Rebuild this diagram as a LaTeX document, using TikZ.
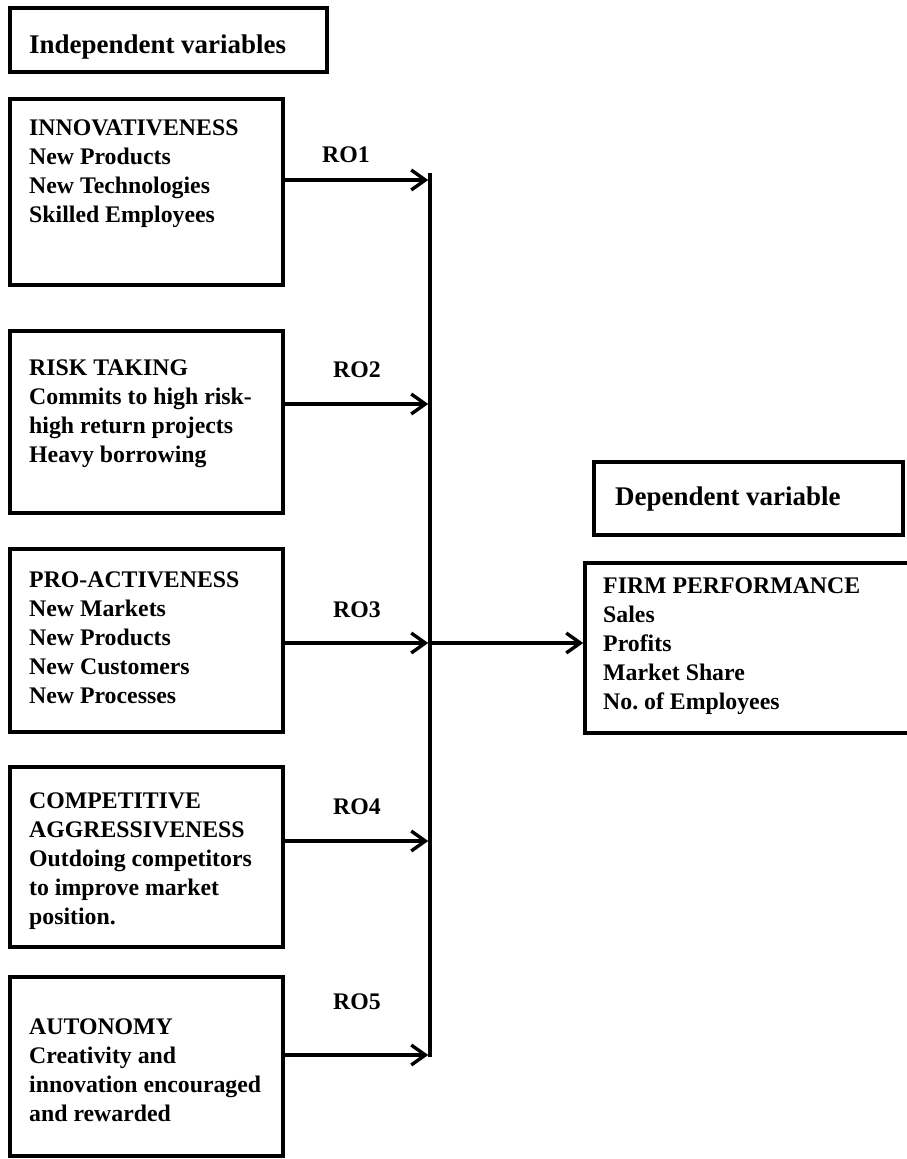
\documentclass[tikz,border=0pt]{standalone}
\usepackage{fontspec}
\setmainfont{Liberation Serif}
\usetikzlibrary{arrows.meta}
\begin{document}
\begin{tikzpicture}[x=0.03cm,y=-0.03cm,
        varbox/.style={draw,line width=3.2pt,inner sep=0pt,outer sep=0pt,minimum width=8.19cm},
        vartext/.style={anchor=north west,inner sep=0pt,align=left,font=\bfseries\fontsize{20.3}{24.7}\selectfont},
        headtext/.style={vartext,font=\bfseries\fontsize{23}{27}\selectfont},
        rolabel/.style={inner sep=0pt,font=\bfseries\fontsize{20.3}{24.7}\selectfont},
        link/.style={line width=2.9pt,shorten >=1.5pt,-{Straight Barb[length=12pt,width=17pt]}}]
        \useasboundingbox (0,0) rectangle (907,1159);

        \node[varbox,minimum width=9.51cm,minimum height=1.92cm] (indep) at (168.5,40) {};
        \node[varbox,minimum height=5.58cm] (inno) at (146.5,192) {};
        \node[varbox,minimum height=5.46cm] (risk) at (146.5,422) {};
        \node[varbox,minimum height=5.49cm] (proact) at (146.5,640.5) {};
        \node[varbox,minimum height=5.40cm] (compet) at (146.5,857) {};
        \node[varbox,minimum height=5.37cm] (auton) at (146.5,1066.5) {};
        \node[varbox,minimum width=9.27cm,minimum height=2.19cm] (dep) at (748.5,498.5) {};
        \node[varbox,minimum width=10.2cm,minimum height=5.1cm] (firm) at (755,648) {};

        \node[headtext] (indeptxt) at (29,35) {Independent variables};
        \node[vartext] (innotxt) at (29,120) {INNOVATIVENESS\\New Products\\New Technologies\\Skilled Employees};
        \node[vartext] (risktxt) at (29,360) {RISK TAKING\\Commits to high risk-\\high return projects\\Heavy borrowing};
        \node[vartext] (proacttxt) at (29,572) {PRO-ACTIVENESS\\New Markets\\New Products\\New Customers\\New Processes};
        \node[vartext] (compettxt) at (29,793) {COMPETITIVE\\AGGRESSIVENESS\\Outdoing competitors\\to improve market\\position.};
        \node[vartext] (autontxt) at (29,1019) {AUTONOMY\\Creativity and\\innovation encouraged\\and rewarded};
        \node[headtext] (deptxt) at (615,487) {Dependent variable};
        \node[vartext] (firmtxt) at (603,578) {FIRM PERFORMANCE\\Sales\\Profits\\Market Share\\No.\ of Employees};

        \node[rolabel] (ro1) at (346,155) {RO1};
        \node[rolabel] (ro2) at (357,370) {RO2};
        \node[rolabel] (ro3) at (357,610) {RO3};
        \node[rolabel] (ro4) at (357,807) {RO4};
        \node[rolabel] (ro5) at (357,1002) {RO5};

        \coordinate (bustop) at (430,173);
        \coordinate (busbot) at (430,1057);
        \coordinate (b1) at (430,180);
        \coordinate (b2) at (430,404);
        \coordinate (b3) at (430,643);
        \coordinate (b4) at (430,841);
        \coordinate (b5) at (430,1055);

        \draw[line width=3.3pt] (bustop) -- (busbot);
        \draw[link] (inno.east |- b1) -- (b1);
        \draw[link] (risk.east |- b2) -- (b2);
        \draw[link] (proact.east |- b3) -- (b3);
        \draw[link] (compet.east |- b4) -- (b4);
        \draw[link] (auton.east |- b5) -- (b5);
        \draw[link] (b3) -- (firm.west |- b3);
    \end{tikzpicture}
\end{document}
